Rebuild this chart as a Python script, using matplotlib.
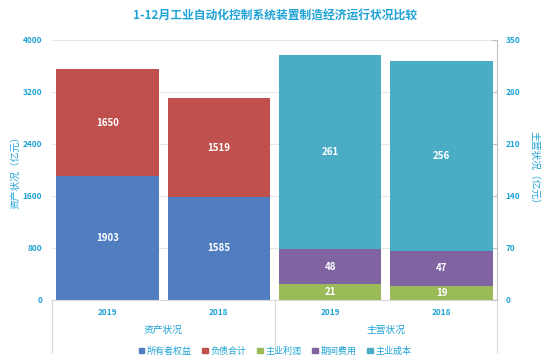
import matplotlib
matplotlib.use("Agg")
import matplotlib.pyplot as plt
from matplotlib.patches import Patch
from matplotlib.transforms import blended_transform_factory

plt.rcParams['font.family'] = ['Noto Sans CJK SC', 'DejaVu Sans']

years = ['2019', '2018', '2019', '2018']
groups = ['资产状况', '主营状况']
owner_equity = [1903, 1585]
liabilities = [1650, 1519]
profit = [21, 19]
expenses = [48, 47]
cost = [261, 256]
left_ticks = [0, 800, 1600, 2400, 3200, 4000]
right_ticks = [0, 70, 140, 210, 280, 350]

c_blue = '#4f7dbf'
c_red = '#c0504d'
c_green = '#9bbb59'
c_purple = '#8064a2'
c_teal = '#4bacc6'
txt = '#1fa3d6'

fig = plt.figure(figsize=(5.5, 3.6), dpi=100)
ax = fig.add_axes([0.0945, 0.1667, 0.8095, 0.7223])
ax2 = ax.twinx()
w = 0.92

xa = [0, 1]
xb = [2, 3]
ax.bar(xa, owner_equity, w, color=c_blue, zorder=2)
ax.bar(xa, liabilities, w, bottom=owner_equity, color=c_red, zorder=2)
ax2.bar(xb, profit, w, color=c_green, zorder=2)
ax2.bar(xb, expenses, w, bottom=profit, color=c_purple, zorder=2)
bot = [p + e for p, e in zip(profit, expenses)]
ax2.bar(xb, cost, w, bottom=bot, color=c_teal, zorder=2)

lab = dict(color='white', fontsize=7, fontweight='bold', ha='center', va='center')
for i, x in enumerate(xa):
    ax.text(x, owner_equity[i] / 2, str(owner_equity[i]), **lab)
    ax.text(x, owner_equity[i] + liabilities[i] / 2, str(liabilities[i]), **lab)
for i, x in enumerate(xb):
    ax2.text(x, profit[i] / 2, str(profit[i]), **lab)
    ax2.text(x, profit[i] + expenses[i] / 2, str(expenses[i]), **lab)
    ax2.text(x, bot[i] + cost[i] / 2, str(cost[i]), **lab)

ax.set_xlim(-0.5, 3.5)
ax.set_ylim(0, 4000)
ax2.set_ylim(0, 350)
ax.set_yticks(left_ticks)
ax2.set_yticks(right_ticks)
ax.yaxis.grid(True, color='#e6e6e6', linewidth=0.8, zorder=0)
ax.set_axisbelow(True)

for a in (ax, ax2):
    for s in ['top', 'left', 'right', 'bottom']:
        a.spines[s].set_visible(False)
ax2.spines['right'].set_visible(True)
ax2.spines['right'].set_color('#bfbfbf')
ax.spines['bottom'].set_visible(True)
ax.spines['bottom'].set_color('#d9d9d9')

ax.tick_params(axis='y', length=0, labelsize=6, labelcolor=txt, pad=7)
ax2.tick_params(axis='y', direction='in', length=4, color='#bfbfbf', labelsize=6, labelcolor=txt, pad=6)
for t in ax.get_yticklabels() + ax2.get_yticklabels():
    t.set_fontweight('bold')

ax.set_xticks(range(4))
ax.set_xticklabels(years, fontsize=6, color=txt, fontweight='bold')
ax.tick_params(axis='x', length=0, pad=6)

trans = blended_transform_factory(ax.transData, ax.transAxes)
for xv in [-0.5, 1.5, 3.5]:
    ax.plot([xv, xv], [0, -0.2], transform=trans, color='#d9d9d9', lw=0.8, clip_on=False)
ax.text(0.5, -0.115, groups[0], transform=trans, ha='center', va='center', fontsize=7, color=txt)
ax.text(2.5, -0.115, groups[1], transform=trans, ha='center', va='center', fontsize=7, color=txt)

ax.set_ylabel('资产状况（亿元）', fontsize=7, color=txt, va='center')
ax.yaxis.set_label_coords(-0.083, 0.5)
ax2.set_ylabel('主营状况（亿元）', fontsize=7, color=txt, rotation=270, va='center')
ax2.yaxis.set_label_coords(1.083, 0.5)

fig.suptitle('1-12月工业自动化控制系统装置制造经济运行状况比较', x=0.5, y=0.975,
             fontsize=8.5, fontweight='bold', color=txt)

handles = [Patch(color=c) for c in [c_blue, c_red, c_green, c_purple, c_teal]]
names = ['所有者权益', '负债合计', '主业利润', '期间费用', '主业成本']
leg = fig.legend(handles, names, loc='center', bbox_to_anchor=(0.5, 0.025), ncol=5,
                 frameon=False, fontsize=6.5, handlelength=0.6, handleheight=0.6,
                 handletextpad=0.3, columnspacing=1.2)
for t in leg.get_texts():
    t.set_color(txt)

fig.savefig('out.png', dpi=100)
